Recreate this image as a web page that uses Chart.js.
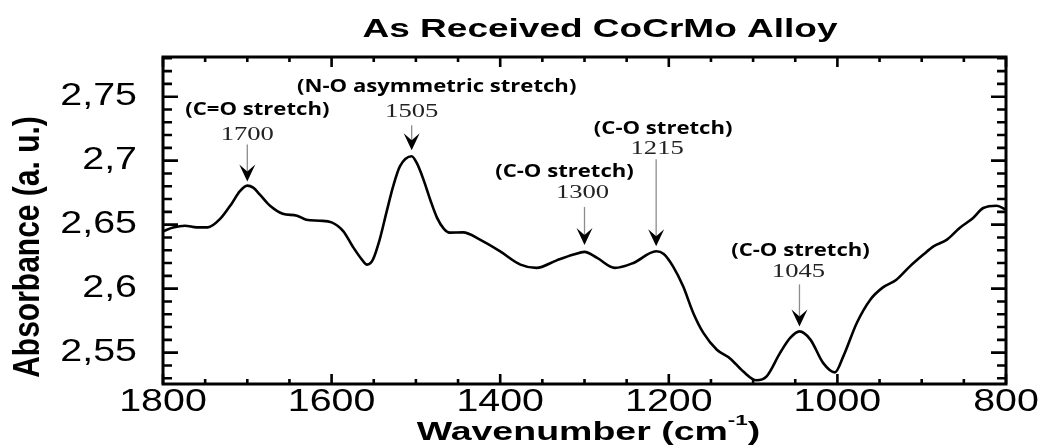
<!DOCTYPE html>
<html>
<head>
<meta charset="utf-8">
<script src="https://cdn.jsdelivr.net/npm/chart.js@4.4.1/dist/chart.umd.min.js"></script>
<style>
  html, body { margin: 0; padding: 0; background: #fff; }
  #wrap { width: 1041px; height: 446px; position: relative; }
</style>
</head>
<body>
<div id="wrap"><canvas id="c" width="1041" height="446"></canvas></div>
<script>
// FTIR spectrum of the as-received CoCrMo alloy
const WAVENUMBERS = [
  1800, 1788, 1774, 1760, 1747, 1732, 1718, 1709, 1700, 1693,
  1685, 1673, 1658, 1641, 1630, 1614, 1600, 1586, 1575, 1564,
  1558, 1551, 1543, 1535, 1527, 1519, 1505, 1499, 1491, 1483,
  1475, 1467, 1460, 1444, 1424, 1400, 1376, 1357, 1333, 1313,
  1300, 1285, 1264, 1242, 1215, 1206, 1195, 1183, 1171, 1159,
  1143, 1127, 1112, 1096, 1084, 1068, 1056, 1045, 1032, 1017,
  1003, 993, 977, 961, 946, 930, 914, 898, 886, 870,
  855, 839, 827, 811, 800
];
const ABSORBANCE = [
  2.6448, 2.6477, 2.6492, 2.6479, 2.6479, 2.6547, 2.6670, 2.6760, 2.6805, 2.6789,
  2.6734, 2.6648, 2.6586, 2.6570, 2.6539, 2.6531, 2.6518, 2.6448, 2.6330, 2.6227,
  2.6188, 2.6227, 2.6383, 2.6594, 2.6799, 2.6955, 2.7035, 2.6982, 2.6852, 2.6695,
  2.6555, 2.6469, 2.6438, 2.6440, 2.6383, 2.6291, 2.6188, 2.6162, 2.6221, 2.6266,
  2.6287, 2.6240, 2.6162, 2.6201, 2.6292, 2.6271, 2.6174, 2.6018, 2.5810, 2.5654,
  2.5523, 2.5453, 2.5354, 2.5284, 2.5315, 2.5498, 2.5615, 2.5666, 2.5602, 2.5420,
  2.5346, 2.5471, 2.5732, 2.5914, 2.6010, 2.6070, 2.6174, 2.6266, 2.6330, 2.6383,
  2.6474, 2.6552, 2.6630, 2.6648, 2.6617
];

const X_TICKS = [1800, 1600, 1400, 1200, 1000, 800];
const Y_TICKS = [2.55, 2.6, 2.65, 2.7, 2.75];

// Band assignments marked with arrows
const PEAKS = [1700, 1505, 1300, 1215, 1045];
const PEAK_NAMES = [
  '(C=O stretch)',
  '(N-O asymmetric stretch)',
  '(C-O stretch)',
  '(C-O stretch)',
  '(C-O stretch)'
];

const TITLE = 'As Received CoCrMo Alloy';
const X_TITLE = 'Wavenumber (cm';
const X_TITLE_SUP = '-1';
const X_TITLE_END = ')';
const Y_TITLE = 'Absorbance (a. u.)';

// Placement of each band label (pixels): arrow length, gap above curve,
// gaps for the number and name, horizontal offsets of the texts.
const PEAK_LAYOUT = [
  { tipGap: 4, len: 37, numGap: 5, nameGap: 25, numDx: 0, nameDx: 10 },
  { tipGap: 6, len: 25, numGap: 8, nameGap: 25, numDx: 0, nameDx: 25 },
  { tipGap: 7, len: 38, numGap: 9, nameGap: 21, numDx: -2, nameDx: -20 },
  { tipGap: 5, len: 87, numGap: 5, nameGap: 20, numDx: 1, nameDx: 7 },
  { tipGap: 5, len: 42, numGap: 7, nameGap: 21, numDx: -1, nameDx: 1 }
];

const SANS = '"Liberation Sans", Arial, sans-serif';
const TICK_STRETCH = 1.27;

function stretchedText(ctx, text, x, y, sx, sy) {
  ctx.save();
  ctx.translate(x, y);
  ctx.scale(sx, sy || 1);
  ctx.fillText(text, 0, 0);
  ctx.restore();
}

const framePlugin = {
  id: 'frameAndLabels',
  beforeDraw(chart) {
    const ctx = chart.ctx;
    if (!ctx.__plainFillText) {
      ctx.__plainFillText = ctx.fillText;
      ctx.fillText = function (text, x, y, maxWidth) {
        const s = this.__stretch || 1;
        if (s === 1) {
          if (maxWidth === undefined) return this.__plainFillText(text, x, y);
          return this.__plainFillText(text, x, y, maxWidth);
        }
        this.save();
        this.translate(x, y);
        this.scale(s, 1);
        this.__plainFillText(text, 0, 0);
        this.restore();
      };
    }
    ctx.__stretch = TICK_STRETCH;
  },
  afterDraw(chart) {
    const ctx = chart.ctx;
    ctx.__stretch = 1;
    const { left, right, top, bottom } = chart.chartArea;
    const xs = chart.scales.x, ys = chart.scales.y;

    ctx.save();
    // tick marks pointing into the plot on all four sides
    ctx.strokeStyle = '#000';
    ctx.lineWidth = 2.6;
    ctx.beginPath();
    for (let v = 800; v <= 1800; v += 50) {
      const px = xs.getPixelForValue(v);
      const l = (v % 200 === 0) ? 10 : 5;
      ctx.moveTo(px, bottom); ctx.lineTo(px, bottom - l);
      ctx.moveTo(px, top); ctx.lineTo(px, top + l);
    }
    for (let k = 253; k <= 278; k++) {
      const v = k / 100;
      const py = ys.getPixelForValue(v);
      const l = (k % 5 === 0) ? 15 : 9;
      ctx.moveTo(left, py); ctx.lineTo(left + l, py);
      ctx.moveTo(right, py); ctx.lineTo(right - l, py);
    }
    ctx.stroke();

    // frame
    ctx.lineWidth = 3;
    ctx.strokeRect(left, top, right - left, bottom - top);

    // band arrows and labels
    PEAKS.forEach((wn, i) => {
      const lay = PEAK_LAYOUT[i];
      const idx = WAVENUMBERS.indexOf(wn);
      const px = xs.getPixelForValue(wn);
      const tip = ys.getPixelForValue(ABSORBANCE[idx]) - lay.tipGap;
      const tail = tip - lay.len;
      // shaft
      ctx.strokeStyle = '#8c8c8c';
      ctx.lineWidth = 1.3;
      ctx.beginPath();
      ctx.moveTo(px, tail);
      ctx.lineTo(px, tip - 8);
      ctx.stroke();
      // head
      ctx.fillStyle = '#000';
      ctx.beginPath();
      ctx.moveTo(px, tip);
      ctx.lineTo(px - 8, tip - 17);
      ctx.lineTo(px, tip - 10);
      ctx.lineTo(px + 8, tip - 17);
      ctx.closePath();
      ctx.fill();
      // wavenumber and assignment
      ctx.textAlign = 'center';
      ctx.textBaseline = 'alphabetic';
      ctx.fillStyle = '#222';
      ctx.font = '19px "Liberation Serif", "Times New Roman", serif';
      const numBase = tail - lay.numGap;
      stretchedText(ctx, String(wn), px + lay.numDx, numBase, 1.4);
      ctx.fillStyle = '#000';
      ctx.font = 'bold 17px "Open Sans", sans-serif';
      stretchedText(ctx, PEAK_NAMES[i], px + lay.nameDx, numBase - lay.nameGap, 1.3);
    });

    // chart title
    ctx.fillStyle = '#000';
    ctx.textAlign = 'center';
    ctx.textBaseline = 'alphabetic';
    ctx.font = 'bold 25px ' + SANS;
    stretchedText(ctx, TITLE, 600, 37, 1.48);

    // x-axis title with superscript
    const sx = 1.5;
    ctx.font = 'bold 25px ' + SANS;
    const w1 = ctx.measureText(X_TITLE).width * sx;
    const w3 = ctx.measureText(X_TITLE_END).width * sx;
    ctx.font = 'bold 15px ' + SANS;
    const w2 = ctx.measureText(X_TITLE_SUP).width * sx;
    let x0 = (left + right) / 2 + 4 - (w1 + w2 + w3) / 2;
    ctx.textAlign = 'left';
    ctx.font = 'bold 25px ' + SANS;
    stretchedText(ctx, X_TITLE, x0, 440, sx);
    ctx.font = 'bold 15px ' + SANS;
    stretchedText(ctx, X_TITLE_SUP, x0 + w1, 425, sx);
    ctx.font = 'bold 25px ' + SANS;
    stretchedText(ctx, X_TITLE_END, x0 + w1 + w2, 440, sx);

    // y-axis title
    ctx.save();
    ctx.translate(39, 247);
    ctx.rotate(-Math.PI / 2);
    ctx.scale(1, 1.2);
    ctx.textAlign = 'center';
    ctx.font = 'bold 30px ' + SANS;
    ctx.fillText(Y_TITLE, 0, 0);
    ctx.restore();

    ctx.restore();
  }
};

new Chart(document.getElementById('c'), {
  type: 'line',
  data: {
    datasets: [{
      data: WAVENUMBERS.map((w, i) => ({ x: w, y: ABSORBANCE[i] })),
      borderColor: '#000',
      borderWidth: 2.6,
      pointRadius: 0,
      fill: false,
      cubicInterpolationMode: 'monotone'
    }]
  },
  options: {
    responsive: false,
    animation: false,
    devicePixelRatio: 1,
    layout: { padding: { left: 0, right: 35, top: 57, bottom: 0 } },
    plugins: {
      legend: { display: false },
      tooltip: { enabled: false },
      title: { display: false }
    },
    scales: {
      x: {
        type: 'linear',
        reverse: true,
        min: 800,
        max: 1800,
        afterBuildTicks: s => { s.ticks = X_TICKS.map(v => ({ value: v })); },
        afterFit: s => { s.height = 62; },
        grid: { display: false, drawTicks: false },
        border: { display: false },
        ticks: {
          color: '#000',
          font: { family: SANS, size: 31, lineHeight: 1 },
          padding: 3,
          maxRotation: 0,
          autoSkip: false,
          callback: v => String(v)
        }
      },
      y: {
        type: 'linear',
        min: 2.5255,
        max: 2.781,
        afterBuildTicks: s => { s.ticks = Y_TICKS.map(v => ({ value: v })); },
        afterFit: s => { s.width = 163; },
        grid: { display: false, drawTicks: false },
        border: { display: false },
        ticks: {
          color: '#000',
          font: { family: SANS, size: 31, lineHeight: 1 },
          padding: 26,
          callback: v => String(v).replace('.', ',')
        }
      }
    }
  },
  plugins: [framePlugin]
});
</script>
</body>
</html>
